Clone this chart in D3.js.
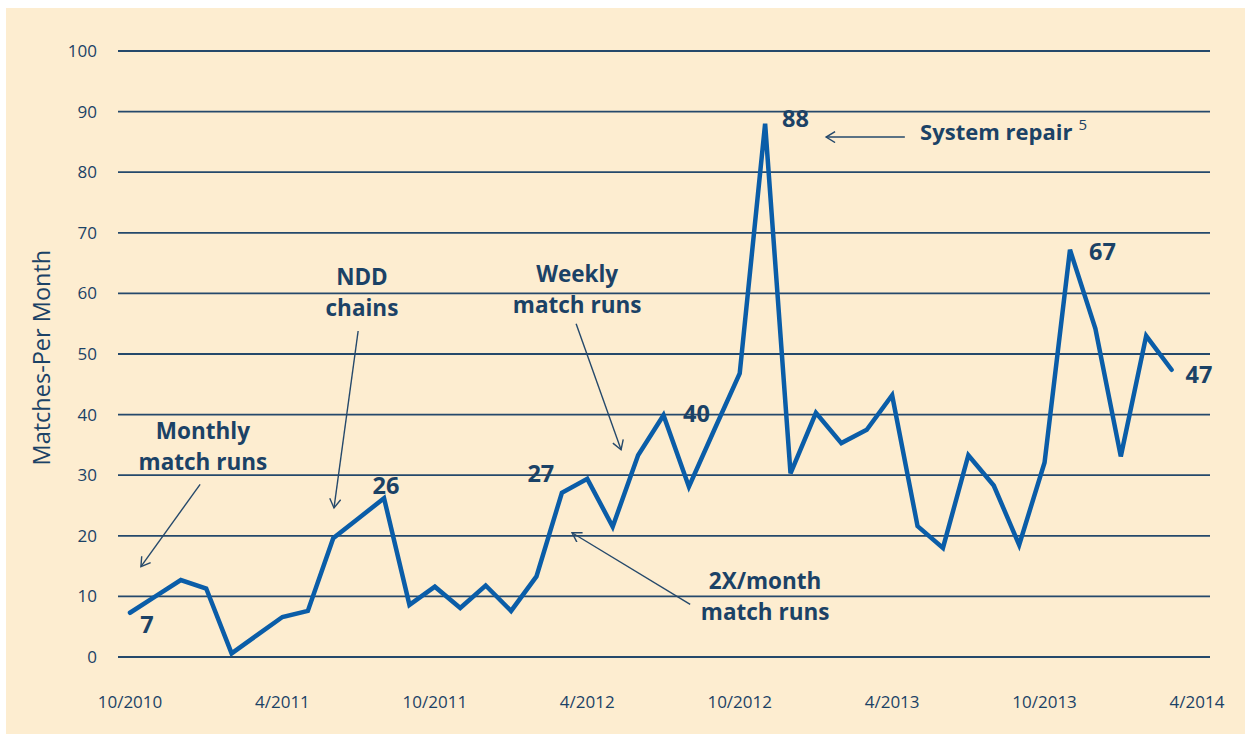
<!DOCTYPE html>
<html>
<head>
<meta charset="utf-8">
<script src="https://cdn.jsdelivr.net/npm/d3@7"></script>
<style>
  body { margin: 0; background: #fff; }
  text { font-family: "Open Sans", sans-serif; }
</style>
</head>
<body>
<div id="chart"></div>
<script>
// months since 10/2010, one value per month up to 3/2014
const monthIndex = d3.range(0, 42);
const matches = [7.3, 10.0, 12.7, 11.3, 0.6, 3.6, 6.6, 7.6, 19.6, 22.9, 26.2, 8.6,
    11.6, 8.1, 11.8, 7.6, 13.3, 27.1, 29.4, 21.5, 33.3, 39.9, 28.1, 37.5,
    46.8, 88.0, 30.3, 40.3, 35.3, 37.5, 43.2, 21.6, 18.0, 33.3, 28.3, 18.5,
    32.1, 67.2, 54.2, 33.1, 53.0, 47.4];

const xTickMonths = [0, 6, 12, 18, 24, 30, 36, 42];
const xTickLabels = ["10/2010", "4/2011", "10/2011", "4/2012", "10/2012", "4/2013", "10/2013", "4/2014"];
const yTicks = [0, 10, 20, 30, 40, 50, 60, 70, 80, 90, 100];

// months whose value gets printed next to the line
const labelledMonths = [0, 10, 17, 21, 25, 37, 41];

const width = 1245;
const height = 734;
const textColor = "#1b4266";
const gridColor = "#25496b";
const lineColor = "#0a5da8";

const xScale = d3.scaleLinear().domain([0, 42]).range([130, 1197]);
const yScale = d3.scaleLinear().domain([0, 100]).range([657, 51]);

const svg = d3.select("#chart").append("svg")
    .attr("width", width)
    .attr("height", height);

svg.append("rect")
    .attr("x", 6).attr("y", 8)
    .attr("width", width - 6).attr("height", height - 8)
    .attr("fill", "#fdedd0");

svg.append("defs").append("marker")
    .attr("id", "head")
    .attr("viewBox", "-10 -6 12 12")
    .attr("refX", 0).attr("refY", 0)
    .attr("markerWidth", 12).attr("markerHeight", 12)
    .attr("markerUnits", "userSpaceOnUse")
    .attr("orient", "auto")
    .append("path")
    .attr("d", "M-9,-5.5L0,0L-9,5.5")
    .attr("fill", "none")
    .attr("stroke", gridColor)
    .attr("stroke-width", 1.4);

// grid lines
svg.append("g").selectAll("line").data(yTicks).join("line")
    .attr("x1", 118).attr("x2", 1210)
    .attr("y1", d => yScale(d)).attr("y2", d => yScale(d))
    .attr("stroke", gridColor)
    .attr("stroke-width", 1.8);

// y tick labels
svg.append("g").selectAll("text").data(yTicks).join("text")
    .attr("x", 97)
    .attr("y", d => yScale(d) + 6)
    .attr("text-anchor", "end")
    .attr("fill", textColor)
    .style("font-size", "17px")
    .text(d => d);

// x tick labels
svg.append("g").selectAll("text").data(xTickMonths).join("text")
    .attr("x", d => xScale(d))
    .attr("y", 708)
    .attr("text-anchor", "middle")
    .attr("fill", textColor)
    .style("font-size", "17px")
    .text((d, i) => xTickLabels[i]);

svg.append("text")
    .attr("transform", `translate(50, ${yScale(49.4)}) rotate(-90)`)
    .attr("text-anchor", "middle")
    .attr("fill", textColor)
    .style("font-size", "23.5px")
    .text("Matches-Per Month");

// the data line
const line = d3.line()
    .x((d, i) => xScale(monthIndex[i]))
    .y(d => yScale(d));

svg.append("path")
    .datum(matches)
    .attr("d", line)
    .attr("fill", "none")
    .attr("stroke", lineColor)
    .attr("stroke-width", 4.5)
    .attr("stroke-linejoin", "miter")
    .attr("stroke-linecap", "round");

// value labels
const labelOffsets = {0: [17, 20, "middle"], 10: [2, -4, "middle"], 17: [-21, -11, "middle"],
    21: [33, 7, "middle"], 25: [17, 3, "start"], 37: [19, 10, "start"], 41: [14, 13, "start"]};

svg.append("g").selectAll("text").data(labelledMonths).join("text")
    .attr("x", d => xScale(d) + labelOffsets[d][0])
    .attr("y", d => yScale(matches[d]) + labelOffsets[d][1])
    .attr("text-anchor", d => labelOffsets[d][2])
    .attr("fill", textColor)
    .style("font-size", "23.5px")
    .style("font-weight", "700")
    .text(d => Math.round(matches[d]));

// annotations, placed in chart units (month, matches)
const notes = [
    { lines: ["Monthly", "match runs"], m: 2.87, v: 36.0, from: [2.76, 28.5], to: [0.43, 14.9] },
    { lines: ["NDD", "chains"], m: 9.13, v: 61.4, from: [8.98, 53.8], to: [8.03, 24.6] },
    { lines: ["Weekly", "match runs"], m: 17.6, v: 61.9, from: [17.56, 55.0], to: [19.33, 34.2] },
    { lines: ["2X/month", "match runs"], m: 25.0, v: 11.2, from: [22.05, 8.7], to: [17.4, 20.5] }
];

notes.forEach(n => {
    const t = svg.append("text")
        .attr("text-anchor", "middle")
        .attr("fill", textColor)
        .style("font-size", "22.5px")
        .style("font-weight", "700");
    n.lines.forEach((s, i) => {
        t.append("tspan")
            .attr("x", xScale(n.m))
            .attr("y", yScale(n.v) + i * 31)
            .text(s);
    });
    svg.append("line")
        .attr("x1", xScale(n.from[0])).attr("y1", yScale(n.from[1]))
        .attr("x2", xScale(n.to[0])).attr("y2", yScale(n.to[1]))
        .attr("stroke", gridColor)
        .attr("stroke-width", 1.4)
        .attr("marker-end", "url(#head)");
});

const repair = svg.append("text")
    .attr("x", xScale(31.1))
    .attr("y", yScale(85.3))
    .attr("fill", textColor)
    .style("font-size", "22px")
    .style("font-weight", "700")
    .text("System repair");
repair.append("tspan")
    .attr("dx", 6)
    .attr("dy", -10)
    .style("font-size", "15px")
    .style("font-weight", "400")
    .text("5");

svg.append("line")
    .attr("x1", xScale(30.5)).attr("y1", yScale(85.8))
    .attr("x2", xScale(27.4)).attr("y2", yScale(85.8))
    .attr("stroke", gridColor)
    .attr("stroke-width", 1.4)
    .attr("marker-end", "url(#head)");
</script>
</body>
</html>
